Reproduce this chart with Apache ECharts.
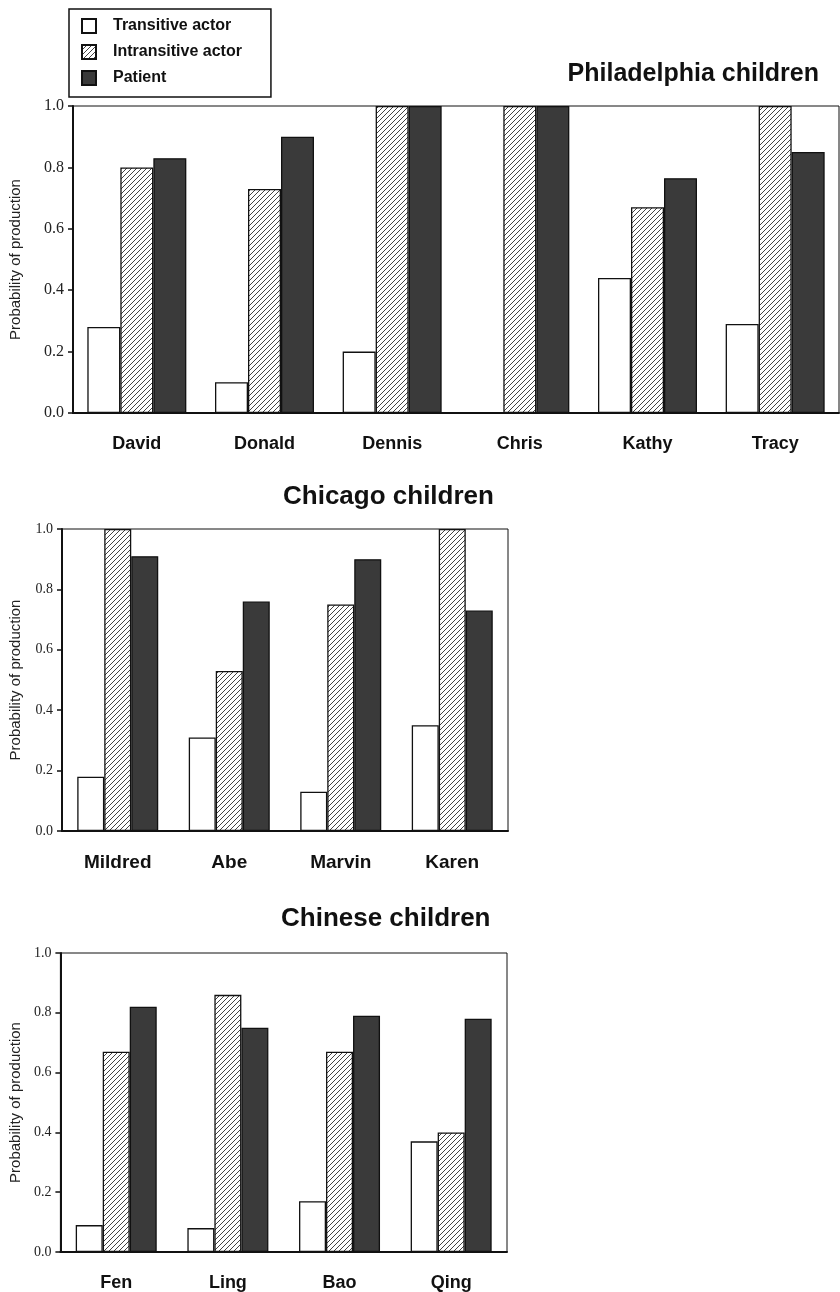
<!DOCTYPE html>
<html>
<head>
<meta charset="utf-8">
<script src="https://cdn.jsdelivr.net/npm/echarts@6/dist/echarts.min.js"></script>
<style>
  html, body { margin: 0; padding: 0; background: #fff; }
  #main { width: 840px; height: 1292px; }
</style>
</head>
<body>
<div id="main"></div>
<script>
// legend / series names
var seriesNames = ['Transitive actor', 'Intransitive actor', 'Patient'];

// Philadelphia children
var phillyKids = ['David', 'Donald', 'Dennis', 'Chris', 'Kathy', 'Tracy'];
var phillyTransitive = [0.28, 0.10, 0.20, 0, 0.44, 0.29];
var phillyIntransitive = [0.80, 0.73, 1.0, 1.0, 0.67, 1.0];
var phillyPatient = [0.83, 0.90, 1.0, 1.0, 0.765, 0.85];

// Chicago children
var chicagoKids = ['Mildred', 'Abe', 'Marvin', 'Karen'];
var chicagoTransitive = [0.18, 0.31, 0.13, 0.35];
var chicagoIntransitive = [1.0, 0.53, 0.75, 1.0];
var chicagoPatient = [0.91, 0.76, 0.90, 0.73];

// Chinese children
var chineseKids = ['Fen', 'Ling', 'Bao', 'Qing'];
var chineseTransitive = [0.09, 0.08, 0.17, 0.37];
var chineseIntransitive = [0.67, 0.86, 0.67, 0.40];
var chinesePatient = [0.82, 0.75, 0.79, 0.78];

var yTicks = [0, 0.2, 0.4, 0.6, 0.8, 1.0];

//斜线填充
function makeHatch() {
    var c = document.createElement('canvas');
    c.width = 5;
    c.height = 5;
    var ctx = c.getContext('2d');
    ctx.fillStyle = '#ffffff';
    ctx.fillRect(0, 0, 5, 5);
    ctx.strokeStyle = '#222';
    ctx.lineWidth = 0.85;
    ctx.beginPath();
    ctx.moveTo(-1, 6); ctx.lineTo(6, -1);
    ctx.moveTo(-1, 1); ctx.lineTo(1, -1);
    ctx.moveTo(4, 6); ctx.lineTo(6, 4);
    ctx.stroke();
    return c;
}
var hatch = { image: makeHatch(), repeat: 'repeat' };

var styles = [
    { color: '#ffffff', borderColor: '#111', borderWidth: 1.3 },
    { color: hatch, borderColor: '#111', borderWidth: 1.3 },
    { color: '#3a3a3a', borderColor: '#111', borderWidth: 1.3 }
];

var grids = [
    { left: 73, top: 106, width: 766, height: 307, nameGap: 50, tickSize: 16, barWidth: 33, catSize: 18 },
    { left: 61, top: 529, width: 447, height: 302, nameGap: 39, tickSize: 14, barWidth: 27, catSize: 19 },
    { left: 58, top: 953, width: 449, height: 300, nameGap: 37, tickSize: 14, barWidth: 27, catSize: 18 }
];
var categories = [phillyKids, chicagoKids, chineseKids];
var values = [
    [phillyTransitive, phillyIntransitive, phillyPatient],
    [chicagoTransitive, chicagoIntransitive, chicagoPatient],
    [chineseTransitive, chineseIntransitive, chinesePatient]
];

var titleFont = { fontFamily: 'Liberation Sans', fontSize: 25, fontWeight: 'bold', color: '#111' };

var option = {
    backgroundColor: '#ffffff',
    animation: false,
    title: [
        { text: 'Philadelphia children', right: 16, top: 57, textStyle: titleFont },
        { text: 'Chicago children', left: 278, top: 479,
          textStyle: { fontFamily: 'Liberation Sans', fontSize: 26, fontWeight: 'bold', color: '#111' } },
        { text: 'Chinese children', left: 276, top: 901,
          textStyle: { fontFamily: 'Liberation Sans', fontSize: 26, fontWeight: 'bold', color: '#111' } }
    ],
    legend: {
        data: seriesNames,
        orient: 'vertical',
        left: 69,
        top: 9,
        padding: [9, 29, 11, 12],
        icon: 'rect',
        itemWidth: 14,
        itemHeight: 14,
        itemGap: 10,
        borderColor: '#111',
        borderWidth: 1.5,
        textStyle: { fontFamily: 'Liberation Sans', fontSize: 16, fontWeight: 'bold', color: '#111',
                     lineHeight: 14, padding: [0, 0, 0, 12] }
    },
    grid: [],
    xAxis: [],
    yAxis: [],
    series: []
};

for (var g = 0; g < grids.length; g++) {
    var gd = grids[g];
    option.grid.push({
        left: gd.left, top: gd.top, width: gd.width, height: gd.height,
        show: true, borderColor: '#111', borderWidth: 1, backgroundColor: 'transparent'
    });
    option.xAxis.push({
        type: 'category',
        gridIndex: g,
        data: categories[g],
        boundaryGap: true,
        axisLine: { lineStyle: { color: '#111', width: 2 } },
        axisTick: { show: false },
        axisLabel: { margin: 22, fontFamily: 'Liberation Sans', fontSize: gd.catSize, fontWeight: 'bold', color: '#111' },
        splitLine: { show: false }
    });
    option.yAxis.push({
        type: 'value',
        gridIndex: g,
        min: yTicks[0],
        max: yTicks[yTicks.length - 1],
        interval: 0.2,
        name: 'Probability of production',
        nameLocation: 'middle',
        nameRotate: 90,
        nameGap: gd.nameGap,
        nameTextStyle: { fontFamily: 'Liberation Sans', fontSize: 15, color: '#222' },
        axisLine: { show: true, lineStyle: { color: '#111', width: 2 } },
        axisTick: { show: true, inside: false, length: 5, lineStyle: { color: '#111', width: 1.5 } },
        axisLabel: {
            margin: 9,
            fontFamily: 'Liberation Serif',
            fontSize: gd.tickSize,
            color: '#222',
            formatter: function (v) { return v.toFixed(1); }
        },
        splitLine: { show: false }
    });
    for (var s = 0; s < 3; s++) {
        option.series.push({
            name: seriesNames[s],
            type: 'bar',
            xAxisIndex: g,
            yAxisIndex: g,
            barWidth: gd.barWidth,
            barGap: 0,
            itemStyle: styles[s],
            data: values[g][s]
        });
    }
}

var myChart = echarts.init(document.getElementById('main'), null, { renderer: 'canvas' });
myChart.setOption(option);
</script>
</body>
</html>
